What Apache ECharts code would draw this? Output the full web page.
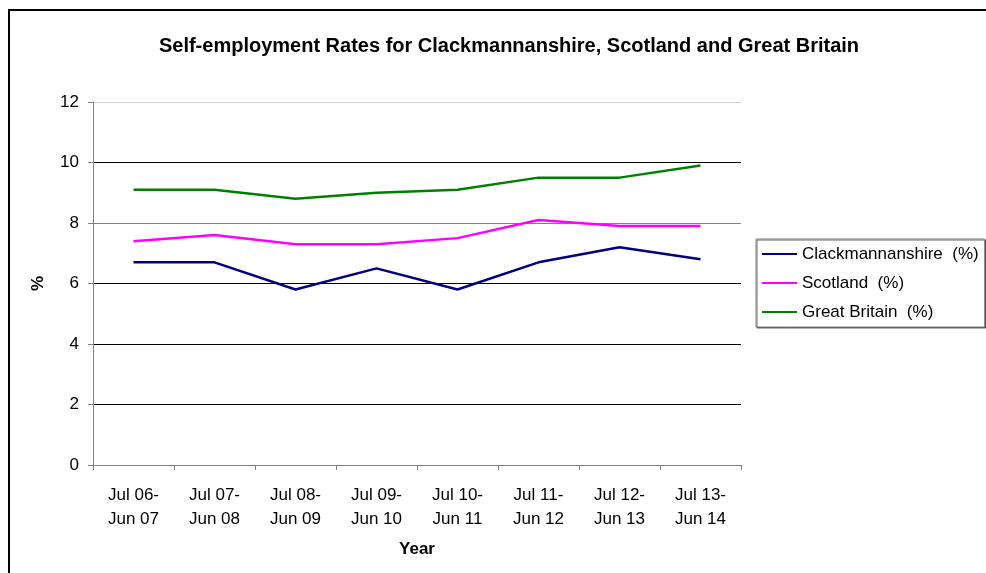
<!DOCTYPE html>
<html>
<head>
<meta charset="utf-8">
<title>Self-employment Rates</title>
<script src="https://cdn.jsdelivr.net/npm/echarts@6/dist/echarts.min.js"></script>
<style>
  html, body { margin: 0; padding: 0; background: #fff; }
  #chart { width: 986px; height: 573px; }
</style>
</head>
<body>
<div id="chart"></div>
<script>
// Twelve-month periods (July to June)
const periods = [
  'Jul 06-\nJun 07', 'Jul 07-\nJun 08', 'Jul 08-\nJun 09', 'Jul 09-\nJun 10',
  'Jul 10-\nJun 11', 'Jul 11-\nJun 12', 'Jul 12-\nJun 13', 'Jul 13-\nJun 14'
];

// Self-employment rate, % of population
const clackmannanshire = [6.7, 6.7, 5.8, 6.5, 5.8, 6.7, 7.2, 6.8];
const scotland         = [7.4, 7.6, 7.3, 7.3, 7.5, 8.1, 7.9, 7.9];
const greatBritain     = [9.1, 9.1, 8.8, 9.0, 9.1, 9.5, 9.5, 9.9];

const seriesNames = ['Clackmannanshire  (%)', 'Scotland  (%)', 'Great Britain  (%)'];
const seriesColors = ['#000080', '#ff00ff', '#008000'];
const seriesData = [clackmannanshire, scotland, greatBritain];

const FONT = '"Liberation Sans", Arial, sans-serif';

const chart = echarts.init(document.getElementById('chart'), null, { renderer: 'canvas' });

chart.setOption({
  backgroundColor: '#ffffff',
  animation: false,
  textStyle: { fontFamily: FONT, color: '#000' },
  graphic: [{
    type: 'rect',
    shape: { x: 9, y: 10, width: 1000, height: 600 },
    style: { fill: 'none', stroke: '#000', lineWidth: 2 },
    silent: true
  }],
  title: {
    text: 'Self-employment Rates for Clackmannanshire, Scotland and Great Britain',
    left: 504,
    textAlign: 'center',
    top: 31,
    textStyle: { fontFamily: FONT, fontSize: 20, fontWeight: 'bold', color: '#000' }
  },
  legend: {
    orient: 'vertical',
    left: 756,
    top: 239,
    padding: [5, 6, 5, 6],
    itemGap: 9,
    itemWidth: 35,
    itemHeight: 2,
    icon: 'rect',
    borderColor: '#808080',
    borderWidth: 1,
    backgroundColor: '#fff',
    shadowColor: 'rgba(0,0,0,0.6)',
    shadowOffsetX: 1,
    shadowOffsetY: 1,
    textStyle: { fontFamily: FONT, fontSize: 17, lineHeight: 20, color: '#000' },
    data: seriesNames
  },
  grid: { left: 93, right: 245, top: 102, bottom: 108, containLabel: false },
  xAxis: {
    type: 'category',
    data: periods,
    boundaryGap: true,
    name: 'Year',
    nameLocation: 'middle',
    nameGap: 76,
    nameTextStyle: { fontFamily: FONT, fontSize: 17, fontWeight: 'bold', color: '#000' },
    axisLine: { lineStyle: { color: '#808080', width: 1 } },
    axisTick: { show: true, length: 5, inside: false, lineStyle: { color: '#808080' } },
    axisLabel: {
      margin: 18, fontFamily: FONT, fontSize: 17, lineHeight: 24, color: '#000', interval: 0
    },
    splitLine: { show: false }
  },
  yAxis: {
    type: 'value',
    min: 0,
    max: 12,
    interval: 2,
    name: '%',
    nameLocation: 'middle',
    nameGap: 46,
    nameTextStyle: { fontFamily: FONT, fontSize: 17, fontWeight: 'bold', color: '#000' },
    axisLine: { show: true, lineStyle: { color: '#808080', width: 1 } },
    axisTick: { show: true, length: 5, inside: false, lineStyle: { color: '#808080' } },
    axisLabel: { margin: 14, fontFamily: FONT, fontSize: 17, color: '#000' },
    splitLine: {
      show: true,
      lineStyle: {
        color: ['#000', '#000', '#000', '#000', '#808080', '#000', '#d0d0d0'],
        width: 1
      }
    }
  },
  series: seriesNames.map((name, i) => ({
    name: name,
    type: 'line',
    data: seriesData[i],
    symbol: 'none',
    color: seriesColors[i],
    lineStyle: { color: seriesColors[i], width: 2.5 },
    z: 3 + i
  }))
});
</script>
</body>
</html>
